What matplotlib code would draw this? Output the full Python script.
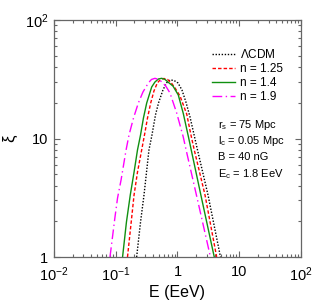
import matplotlib
matplotlib.use("Agg")
import matplotlib.pyplot as plt
from matplotlib.ticker import FixedLocator, FixedFormatter, LogLocator, NullFormatter

plt.rcParams['font.family'] = ['Liberation Sans', 'DejaVu Sans']
plt.rcParams['mathtext.fontset'] = 'custom'
plt.rcParams['mathtext.rm'] = 'Liberation Sans'
plt.rcParams['mathtext.it'] = 'Liberation Sans:italic'

# Daten (E in EeV, xi)
E_lcdm = [0.218, 0.252, 0.287, 0.345, 0.386, 0.440, 0.492, 0.582, 0.664, 0.756,
          0.878, 1.02, 1.18, 1.37, 1.59, 2.11, 3.12, 4.97]
xi_lcdm = [1.0, 1.97, 3.34, 8.0, 10.7, 15.8, 19.9, 25.7, 29.4, 31.2,
           30.9, 29.4, 25.7, 20.3, 15.3, 8.0, 3.34, 1.0]

E_n125 = [0.155, 0.178, 0.198, 0.225, 0.263, 0.292, 0.327, 0.368, 0.416, 0.471, 0.531,
          0.604, 0.689, 0.785, 0.912, 1.10, 1.41, 1.64, 1.87, 2.79, 4.31]
xi_n125 = [1.0, 1.97, 3.34, 5.2, 8.0, 10.7, 14.9, 19.9, 25.2, 29.4, 31.5,
           32.1, 31.5, 29.7, 26.7, 22.8, 16.1, 10.9, 8.0, 3.34, 1.0]

E_n14 = [0.129, 0.149, 0.172, 0.198, 0.225, 0.252, 0.281, 0.317, 0.382, 0.432, 0.492,
         0.555, 0.628, 0.715, 0.846, 1.03, 1.24, 1.50, 1.67, 2.39, 3.94]
xi_n14 = [1.0, 1.97, 3.34, 5.2, 8.0, 10.7, 14.9, 19.9, 27.2, 30.0, 31.8,
          32.2, 31.5, 29.7, 27.7, 23.3, 16.3, 10.4, 8.0, 3.34, 1.0]

E_n19 = [0.0807, 0.0973, 0.107, 0.122, 0.147, 0.164, 0.194, 0.232, 0.276, 0.337, 0.379,
         0.432, 0.492, 0.561, 0.652, 0.756, 0.971, 1.24, 1.38, 1.86, 2.15, 3.42]
xi_n19 = [1.0, 2.18, 3.15, 4.47, 8.0, 10.7, 14.9, 19.9, 24.7, 29.4, 31.5,
          32.2, 31.5, 30.0, 27.5, 24.2, 16.4, 10.3, 8.0, 4.05, 2.91, 1.0]

xticks = [1e-2, 1e-1, 1, 10, 100]
xticklabels = [r'$10^{-2}$', r'$10^{-1}$', '1', '10', r'$10^{2}$']
yticks = [1, 10, 100]
yticklabels = ['1', '10', r'$10^{2}$']

fig = plt.figure(figsize=(3.15, 3.04), dpi=100)
ax = fig.add_axes([0.1714, 0.1546, 0.7841, 0.7796])

ax.plot(E_lcdm, xi_lcdm, color='black', lw=1.0, linestyle=(0, (1, 1.2)), label=r'$\Lambda$CDM')
ax.plot(E_n125, xi_n125, color='red', lw=1.0, linestyle=(0, (2.5, 1.5)), label='n = 1.25')
ax.plot(E_n14, xi_n14, color='#109010', lw=1.0, linestyle='-', label='n = 1.4')
ax.plot(E_n19, xi_n19, color='magenta', lw=1.0, linestyle=(0, (7, 2.5, 1, 2.5)), label='n = 1.9')

ax.set_xscale('log')
ax.set_yscale('log')
ax.set_xlim(1e-2, 1e2)
ax.set_ylim(1, 100)

ax.xaxis.set_major_locator(FixedLocator(xticks))
ax.xaxis.set_major_formatter(FixedFormatter(xticklabels))
ax.yaxis.set_major_locator(FixedLocator(yticks))
ax.yaxis.set_major_formatter(FixedFormatter(yticklabels))
ax.xaxis.set_minor_locator(LogLocator(base=10, subs=range(2, 10), numticks=20))
ax.yaxis.set_minor_locator(LogLocator(base=10, subs=range(2, 10), numticks=20))
ax.xaxis.set_minor_formatter(NullFormatter())
ax.yaxis.set_minor_formatter(NullFormatter())

ax.tick_params(which='both', direction='in', top=True, right=True, color='0.4', labelsize=10.5)
ax.tick_params(which='major', length=4, width=0.8)
ax.tick_params(which='minor', length=2.2, width=0.8)
ax.tick_params(axis='x', which='major', pad=6)
ax.tick_params(axis='y', which='major', pad=4)
for s in ax.spines.values():
    s.set_color('0.4')
    s.set_linewidth(0.9)

ax.set_xlabel('E (EeV)', fontsize=11.5)
ax.xaxis.set_label_coords(0.5, -0.12)
ax.set_ylabel('ξ', fontsize=12)
ax.yaxis.set_label_coords(-0.15, 0.5)

ax.legend(loc='upper left', bbox_to_anchor=(0.64, 0.88), frameon=False, fontsize=8.5,
          handlelength=1.95, handletextpad=0.45, labelspacing=0.15, borderpad=0, borderaxespad=0)

ax.text(0.664, 0.557, r'r$_\mathrm{s}$ = 75 Mpc', transform=ax.transAxes, fontsize=8, va='center')
ax.text(0.664, 0.489, r'l$_\mathrm{c}$ = 0.05 Mpc', transform=ax.transAxes, fontsize=8, va='center')
ax.text(0.664, 0.422, 'B = 40 nG', transform=ax.transAxes, fontsize=8, va='center')
ax.text(0.664, 0.350, r'E$_\mathrm{c}$ = 1.8 EeV', transform=ax.transAxes, fontsize=8, va='center')

fig.savefig('out.png', dpi=100)
